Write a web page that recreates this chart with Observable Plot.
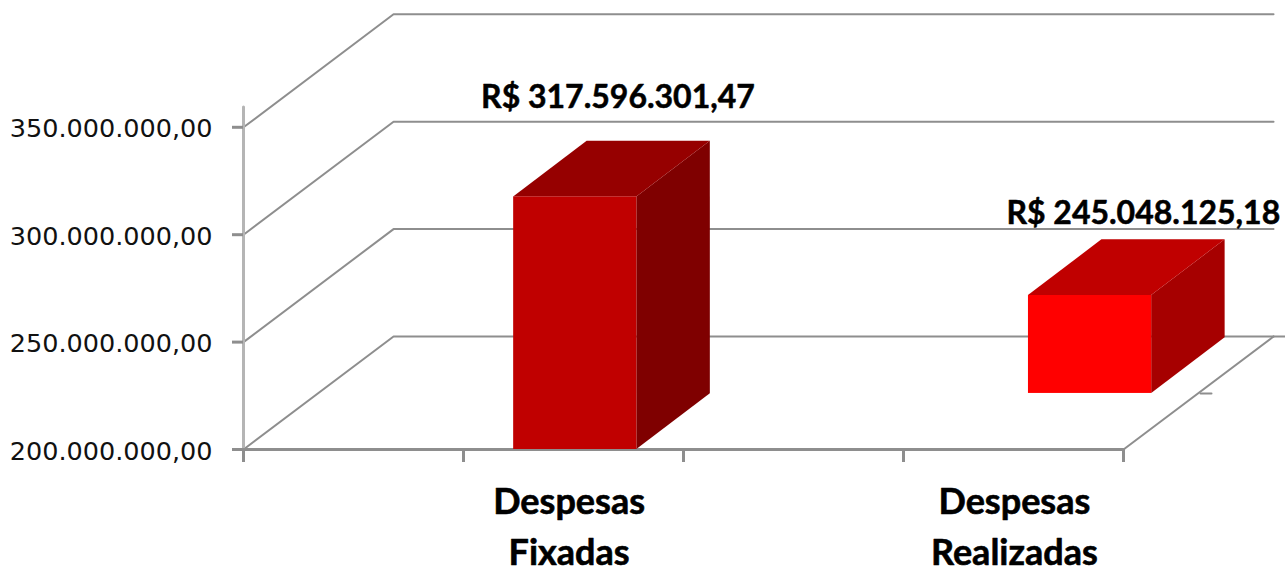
<!DOCTYPE html>
<html>
<head>
<meta charset="utf-8">
<script src="https://cdn.jsdelivr.net/npm/d3@7"></script>
<script src="https://cdn.jsdelivr.net/npm/@observablehq/plot@0.6"></script>
<style>html,body{margin:0;padding:0;background:#fff;overflow:hidden}svg{display:block}</style>
</head>
<body>
<script>
// Values
const categories = ["Despesas\nFixadas", "Despesas\nRealizadas"];
const categoryCenters = [0.74, 1.752];
const amountLabels = ["R$ 317.596.301,47", "R$ 245.048.125,18"];
const labelCenters = [0.851, 2.045];
const labelValues = [363.9e6, 309.9e6];
const barStarts = [0.614, 1.784];
const barWidth = 0.28;
const barBases = [200e6, 226.1e6];
const barTops = [317.6e6, 271.7e6];
const frontColors = ["#c00000", "#ff0000"];
const topColors = ["#960000", "#c00000"];
const sideColors = ["#7f0000", "#a60000"];
const yTicks = [200e6, 250e6, 300e6, 350e6];
const xTicks = [0, 0.5, 1, 1.5, 2];
// Depth of the 3D box and of the bars, in axis units
const wallDepthX = 0.341, wallDepthY = 52.6e6;
const barDepthX = 0.167, barDepthY = 25.9e6;
const xEnd = 2, axisTop = 359.5e6;

const grid = "#8e8e8e";
const fmt = d => d3.format(",.2f")(d).replace(/,/g, "#").replace(".", ",").replace(/#/g, ".");

const gridMarks = yTicks.flatMap(v => [
  Plot.line([[0, v], [wallDepthX, v + wallDepthY], [xEnd + wallDepthX, v + wallDepthY]],
    {stroke: grid, strokeWidth: 2})
]);

const barMarks = barStarts.flatMap((x0, i) => {
  const x1 = x0 + barWidth, b = barBases[i], t = barTops[i];
  return [
    Plot.areaY([
      {x: x1, y1: b, y2: t},
      {x: x1 + barDepthX, y1: b + barDepthY, y2: t + barDepthY}
    ], {x: "x", y1: "y1", y2: "y2", fill: sideColors[i]}),
    Plot.areaX([
      {y: t, x1: x0, x2: x1},
      {y: t + barDepthY, x1: x0 + barDepthX, x2: x1 + barDepthX}
    ], {y: "y", x1: "x1", x2: "x2", fill: topColors[i]}),
    Plot.rect([{x1: x0, x2: x1, y1: b, y2: t}],
      {x1: "x1", x2: "x2", y1: "y1", y2: "y2", fill: frontColors[i], inset: 0})
  ];
});

const chart = Plot.plot({
  width: 1285,
  height: 574,
  marginTop: 0,
  marginBottom: 125,
  marginLeft: 243,
  marginRight: 162,
  x: {domain: [0, 2]},
  y: {domain: [200e6, 409.03e6]},
  style: {background: "#fff", fontFamily: "'DejaVu Sans'"},
  marks: [
    ...gridMarks,
    // floor right edge extension and stray tick
    Plot.line([[xEnd + wallDepthX, 200e6 + wallDepthY], [xEnd + 0.366, 200e6 + wallDepthY]], {stroke: grid, strokeWidth: 2}),
    Plot.line([[xEnd, 200e6], [xEnd + wallDepthX, 200e6 + wallDepthY]], {stroke: grid, strokeWidth: 2}),
    Plot.line([[xEnd + 0.175, 226.1e6], [xEnd + 0.2, 226.1e6]], {stroke: grid, strokeWidth: 2}),
    // axis lines
    Plot.line([[0, 200e6], [0, axisTop]], {stroke: "#b5b5b5", strokeWidth: 3}),
    Plot.line([[0, 200e6], [xEnd, 200e6]], {stroke: grid, strokeWidth: 3}),
    Plot.axisY({
      ticks: yTicks, tickFormat: () => "", tickSize: 11,
      stroke: grid, strokeWidth: 3, label: null
    }),
    Plot.axisY({
      ticks: yTicks, tickFormat: fmt, tickSize: 0, tickPadding: 31, dy: 2,
      fill: "#111", fontSize: 25.5, label: null, fontFamily: "'DejaVu Sans'"
    }),
    Plot.axisX({
      ticks: xTicks, tickFormat: () => "", tickSize: 13, stroke: grid, strokeWidth: 3, label: null
    }),
    ...barMarks,
    Plot.text(amountLabels, {
      x: (d, i) => labelCenters[i], y: (d, i) => labelValues[i], text: d => d,
      fontFamily: "Lato", fontWeight: "bold", fontSize: 32, fill: "#000",
      stroke: "#000", strokeWidth: 0.5
    }),
    Plot.text(categories, {
      x: (d, i) => categoryCenters[i], y: 200e6, text: d => d, dy: 74,
      lineHeight: 1.4, lineAnchor: "middle",
      fontFamily: "Lato", fontWeight: "bold", fontSize: 36, fill: "#000",
      stroke: "#000", strokeWidth: 0.6
    })
  ]
});
document.body.appendChild(chart);
</script>
</body>
</html>
